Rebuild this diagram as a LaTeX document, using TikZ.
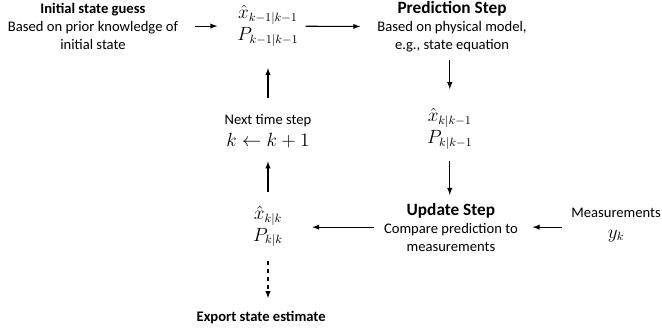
\documentclass[tikz,border=0pt]{standalone}
\usepackage{fontspec}
\setmainfont{Carlito}
\usetikzlibrary{arrows}
\newcommand{\stepfont}{\fontsize{13}{15}\selectfont\bfseries}

\begin{document}
\begin{tikzpicture}
\tikzset{txt/.style={align=center, inner sep=0pt, font=\fontsize{11}{13.5}\selectfont}}
\tikzset{mth/.style={align=center, inner sep=0pt, font=\fontsize{13.5}{16.5}\selectfont}}
\tikzset{arr/.style={draw, -latex, line width=0.8pt}}

\useasboundingbox (0,0) rectangle (17.515,-8.81);

%% top row
\node[txt] at (2.46,-0.69) (init) {\textbf{Initial state guess}\\Based on prior knowledge of\\initial state};
\node[mth] at (7.09,-0.69) (xprev) {$\hat{x}_{k-1|k-1}$\\$P_{k-1|k-1}$};
\node[txt] at (11.96,-0.71) (predict) {{\stepfont Prediction Step}\\Based on physical model,\\e.g., state equation};

%% middle
\node[mth] at (11.90,-3.40) (xpred) {$\hat{x}_{k|k-1}$\\$P_{k|k-1}$};
\node[txt] at (7.09,-3.47) (next) {Next time step\\[3pt]{\fontsize{13.5}{15}\selectfont$k \leftarrow k+1$}};

%% bottom row
\node[mth] at (7.09,-5.99) (xest) {$\hat{x}_{k|k}$\\$P_{k|k}$};
\node[txt] at (11.93,-6.01) (update) {{\stepfont Update Step}\\Compare prediction to\\measurements};
\node[txt] at (16.30,-5.95) (meas) {Measurements\\[2pt]{\fontsize{13.5}{15}\selectfont$y_k$}};
\node[txt] at (6.91,-8.41) (export) {\textbf{Export state estimate}};

  \draw[arr, shorten <=12.75pt, shorten >=15pt] (init) -- (xprev);
  \draw[arr, shorten <=5.25pt, shorten >=12.75pt] (xprev) -- (predict);
  \draw[arr, shorten <=6pt, shorten >=14pt] (predict.south -| xpred) -- (xpred.north);
  \draw[arr, shorten <=9pt, shorten >=6pt] (xpred.south) -- (update.north -| xpred);
  \draw[arr, shorten <=7pt, shorten >=11pt] (meas.west |- update) -- (update.east);
  \draw[arr, shorten <=7.5pt, shorten >=22pt] (update.west) -- (xest.east |- update);
  \draw[arr, shorten <=10.5pt, shorten >=10pt] (xest.north) -- (next.south);
  \draw[arr, shorten <=12pt, shorten >=16pt] (next.north) -- (xprev.south);
  \draw[arr, dashed, shorten <=10.5pt, shorten >=10pt] (xest.south) -- (xest.south |- export.north);

\end{tikzpicture}
\end{document}
